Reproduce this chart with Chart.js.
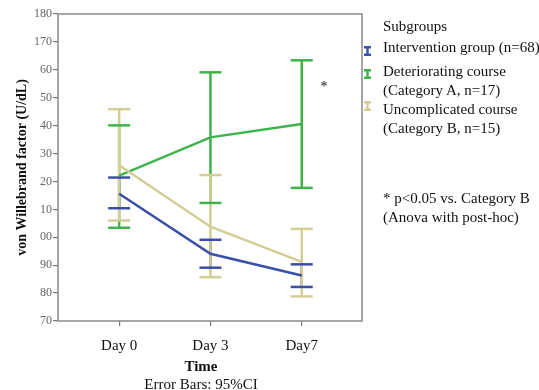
<!DOCTYPE html>
<html>
<head>
<meta charset="utf-8">
<script src="https://cdn.jsdelivr.net/npm/chart.js@4/dist/chart.umd.min.js"></script>
<style>
  body { margin: 0; background: #fff; }
  #wrap { position: relative; width: 539px; height: 390px; font-family: 'Liberation Serif', serif; color: #111; }
  #wrap canvas { position: absolute; left: 0; top: 0; }
  .t { position: absolute; font-size: 15px; line-height: 18px; white-space: nowrap; }
  .ic { position: absolute; left: 364px; }
</style>
</head>
<body>
<div id="wrap">
  <canvas id="chart" width="539" height="390"></canvas>
  <div class="t" style="left:383px;top:17px">Subgroups</div>
  <svg class="ic" style="top:46px" width="7" height="10"><path d="M0 1.2H7M3.5 1.2V8.8M0 8.8H7" stroke="#3b4fa8" stroke-width="2.4" fill="none"/></svg>
  <div class="t" style="left:383px;top:38px">Intervention group (n=68)</div>
  <svg class="ic" style="top:69px" width="7" height="10"><path d="M0 1.2H7M3.5 1.2V8.8M0 8.8H7" stroke="#3fb34b" stroke-width="2.4" fill="none"/></svg>
  <div class="t" style="left:383px;top:62px">Deteriorating course</div>
  <div class="t" style="left:383px;top:81px">(Category A, n=17)</div>
  <svg class="ic" style="top:101px" width="7" height="10"><path d="M0 1.2H7M3.5 1.2V8.8M0 8.8H7" stroke="#d3cd96" stroke-width="2.4" fill="none"/></svg>
  <div class="t" style="left:383px;top:100px">Uncomplicated course</div>
  <div class="t" style="left:383px;top:119px">(Category B, n=15)</div>
  <div class="t" style="left:383px;top:189px">* p&lt;0.05 vs. Category B</div>
  <div class="t" style="left:383px;top:208px">(Anova with post-hoc)</div>
  <div class="t" style="left:314px;top:80px;width:20px;text-align:center;font-size:14px;line-height:14px">*</div>
  <div class="t" style="left:151px;top:357px;width:100px;text-align:center;font-weight:bold">Time</div>
  <div class="t" style="left:101px;top:375px;width:200px;text-align:center">Error Bars: 95%CI</div>
</div>
<script>
// 時点
const categories = ['Day 0', 'Day 3', 'Day7'];
const groupNames = ['Intervention group (n=68)', 'Deteriorating course (Category A, n=17)', 'Uncomplicated course (Category B, n=15)'];

// 平均値と95%CI
const interventionMean = [115.6, 94.1, 86.3];
const interventionLow  = [110.4, 89.1, 82.2];
const interventionHigh = [121.4, 99.1, 90.3];

const deterioratingMean = [122.1, 135.8, 140.6];
const deterioratingLow  = [103.4, 112.3, 117.7];
const deterioratingHigh = [140.1, 159.1, 163.4];

const uncomplicatedMean = [125.8, 103.8, 91.2];
const uncomplicatedLow  = [106.0, 85.7, 78.8];
const uncomplicatedHigh = [145.9, 122.3, 103.0];

// y軸の目盛り（元画像では先頭の1が欠けている）
const yTicks = [70, 80, 90, 100, 110, 120, 130, 140, 150, 160, 170, 180];
const yTickLabels = ['70', '80', '90', '00', '10', '20', '30', '40', '50', '60', '170', '180'];

const series = [
  { name: groupNames[0], mean: interventionMean, low: interventionLow, high: interventionHigh, color: '#3b4fa8', z: 2 },
  { name: groupNames[1], mean: deterioratingMean, low: deterioratingLow, high: deterioratingHigh, color: '#3fb34b', z: 1 },
  { name: groupNames[2], mean: uncomplicatedMean, low: uncomplicatedLow, high: uncomplicatedHigh, color: '#d3cd96', z: 0 }
];

const datasets = [];
series.forEach(s => {
  // ひげ（縦線）
  categories.forEach((c, i) => {
    datasets.push({
      label: s.name + ' CI ' + c,
      data: [{ x: i, y: s.low[i] }, { x: i, y: s.high[i] }],
      showLine: true,
      borderColor: s.color,
      borderWidth: 2.5,
      pointRadius: 0,
      order: 10 + s.z
    });
  });
  // 平均値の線
  datasets.push({
    label: s.name,
    data: s.mean.map((v, i) => ({ x: i, y: v })),
    showLine: true,
    borderColor: s.color,
    borderWidth: 2.5,
    pointRadius: 0,
    order: 5 + s.z
  });
  // キャップ
  datasets.push({
    label: s.name + ' caps',
    data: categories.flatMap((c, i) => [{ x: i, y: s.low[i] }, { x: i, y: s.high[i] }]),
    showLine: false,
    pointStyle: 'line',
    pointRadius: 11,
    pointBorderWidth: 2.5,
    pointBorderColor: s.color,
    pointBackgroundColor: s.color,
    order: s.z
  });
});

// 枠線
const framePlugin = {
  id: 'frame',
  afterDraw(chart) {
    const { ctx, chartArea: a } = chart;
    ctx.save();
    ctx.strokeStyle = '#8a8a8a';
    ctx.lineWidth = 1.5;
    ctx.strokeRect(a.left, a.top, a.right - a.left, a.bottom - a.top);
    ctx.restore();
  }
};

new Chart(document.getElementById('chart'), {
  type: 'scatter',
  data: { datasets },
  options: {
    responsive: false,
    animation: false,
    layout: { padding: { left: 0, top: 14, right: 177, bottom: 0 } },
    plugins: { legend: { display: false }, tooltip: { enabled: false } },
    scales: {
      x: {
        type: 'linear',
        min: -0.67,
        max: 2.66,
        afterBuildTicks: s => { s.ticks = categories.map((c, i) => ({ value: i })); },
        afterFit: s => { s.height = 69; },
        grid: { display: true, drawOnChartArea: false, tickLength: 5, color: '#777', lineWidth: 1.2 },
        border: { display: false },
        ticks: {
          autoSkip: false,
          maxRotation: 0,
          padding: 11,
          color: '#111',
          font: { family: 'Liberation Serif', size: 15 },
          callback: v => categories[v]
        }
      },
      y: {
        min: 70,
        max: 180,
        afterBuildTicks: s => { s.ticks = yTicks.map(v => ({ value: v })); },
        afterFit: s => { s.width = 58; },
        grid: { display: true, drawOnChartArea: false, tickLength: 5, color: '#777', lineWidth: 1.2 },
        border: { display: false },
        ticks: {
          padding: 1,
          color: '#666',
          font: { family: 'Liberation Serif', size: 12 },
          callback: v => yTickLabels[yTicks.indexOf(v)]
        },
        title: {
          display: true,
          text: 'von Willebrand factor (U/dL)',
          color: '#111',
          padding: { top: 14, bottom: 0 },
          font: { family: 'Liberation Serif', size: 14, weight: 'bold' }
        }
      }
    }
  },
  plugins: [framePlugin]
});
</script>
</body>
</html>
